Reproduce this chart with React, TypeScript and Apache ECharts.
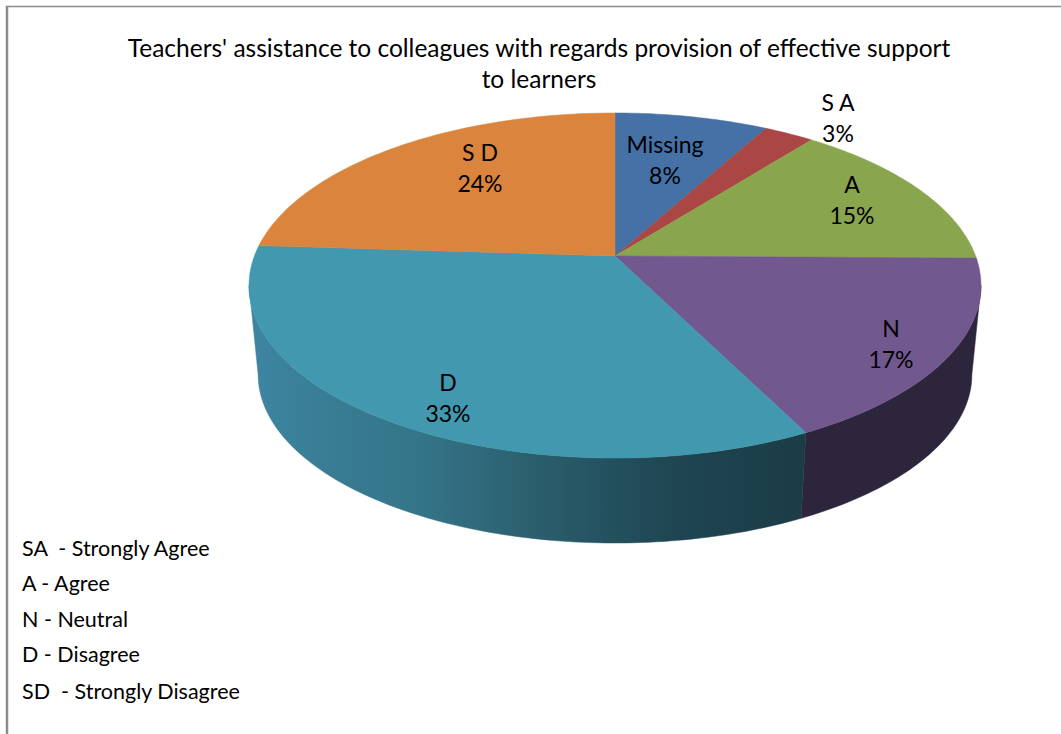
import React, { useEffect, useRef } from "react";
import * as echarts from "echarts";

const titleLines = [
  "Teachers' assistance to colleagues with regards provision of effective support",
  "to learners",
];
const categories = ["Missing", "S A", "A", "N", "D", "S D"];
const shares = [8.0, 2.6, 14.6, 17.4, 33.4, 24.0];
const legendLines = [
  "SA  - Strongly Agree",
  "A - Agree",
  "N - Neutral",
  "D - Disagree",
  "SD  - Strongly Disagree",
];

const topColors = ["#4571A7", "#AA4643", "#89A54E", "#71588F", "#4198AF", "#DB843D"];
const sideColors = ["#2a4464", "#662a28", "#52632f", "#2d253c", "#1b3c46", "#83501f"];
const labelCenters = [
  [665, 159],
  [838, 117],
  [852, 199],
  [891, 343],
  [448, 397],
  [480, 167],
];
const legendRows = [548, 583, 619, 654, 691];

const FONT = "Lato";
const CX = 615;
const CY = 256;
const RX = 360.6;
const RY = 167.5;
const PERSP = 0.171;
const LOWER_SCALE = 0.975;
const LOWER_DY = 90;
const STEP = Math.PI / 180;
// the outline's left and right extremes: the wall is only visible between them
const WALL_FROM = Math.acos(-PERSP);
const WALL_TO = Math.PI * 2 - WALL_FROM;

const total = shares.reduce((a, b) => a + b, 0);
const angleAt = (i: number) =>
  (shares.slice(0, i).reduce((a, b) => a + b, 0) / total) * Math.PI * 2;

function project(theta: number, lower: boolean): number[] {
  const s = Math.sin(theta);
  const c = Math.cos(theta);
  const w = 1 + PERSP * c;
  const k = lower ? LOWER_SCALE : 1;
  return [CX + (RX * k * s) / w, CY + (lower ? LOWER_DY : 0) - (RY * k * c) / w];
}

function arc(a0: number, a1: number, lower: boolean): number[][] {
  const n = Math.max(2, Math.ceil((a1 - a0) / STEP));
  const pts: number[][] = [];
  for (let i = 0; i <= n; i++) pts.push(project(a0 + ((a1 - a0) * i) / n, lower));
  return pts;
}

const sideFill = (i: number): any =>
  categories[i] === "D"
    ? {
        type: "linear",
        global: true,
        x: 258,
        y: 0,
        x2: 806,
        y2: 0,
        colorStops: [
          { offset: 0, color: "#3c84a0" },
          { offset: 0.15, color: "#387c92" },
          { offset: 0.3, color: "#347488" },
          { offset: 0.5, color: "#2b5f6e" },
          { offset: 0.75, color: "#1f4653" },
          { offset: 1, color: "#1b3c46" },
        ],
      }
    : sideColors[i];

export default function App() {
  const ref = useRef<HTMLDivElement>(null);
  useEffect(() => {
    const chart = echarts.init(ref.current!, undefined, { renderer: "svg" });
    const data = shares.map((v, i) => [i, v]);
    chart.setOption({
      animation: false,
      backgroundColor: "#ffffff",
      title: {
        text: titleLines.join("\n"),
        left: 534,
        top: 27,
        textAlign: "center",
        textStyle: {
          fontFamily: FONT,
          fontSize: 24.5,
          fontWeight: "normal",
          color: "#000000",
          lineHeight: 31,
        },
      },
      graphic: [
        {
          type: "line",
          silent: true,
          shape: { x1: 6, y1: 6.5, x2: 1061, y2: 6.5 },
          style: { stroke: "#8c8c8c", lineWidth: 1.5 },
        },
        {
          type: "line",
          silent: true,
          shape: { x1: 7, y1: 6, x2: 7, y2: 734 },
          style: { stroke: "#8c8c8c", lineWidth: 2.5 },
        },
        ...legendLines.map((t, i) => ({
          type: "text",
          silent: true,
          x: 22,
          y: legendRows[i],
          style: {
            text: t,
            font: `21.5px ${FONT}`,
            fill: "#000000",
            verticalAlign: "middle",
            textAlign: "left",
          },
        })),
      ],
      series: [
        {
          type: "custom",
          coordinateSystem: "none",
          silent: true,
          data,
          renderItem: (params: any) => {
            const i = params.dataIndex;
            const a0 = Math.max(angleAt(i), WALL_FROM);
            const a1 = Math.min(angleAt(i + 1), WALL_TO);
            if (a1 <= a0) return { type: "group", children: [] };
            const fill = sideFill(i);
            return {
              type: "polygon",
              shape: { points: [...arc(a0, a1, false), ...arc(a0, a1, true).reverse()] },
              style: { fill, stroke: fill, lineWidth: 0.5 },
            };
          },
        },
        {
          type: "custom",
          coordinateSystem: "none",
          silent: true,
          data,
          renderItem: (params: any) => {
            const i = params.dataIndex;
            return {
              type: "polygon",
              shape: { points: [[CX, CY], ...arc(angleAt(i), angleAt(i + 1), false)] },
              style: { fill: topColors[i], stroke: topColors[i], lineWidth: 0.5 },
            };
          },
        },
        {
          type: "custom",
          coordinateSystem: "none",
          silent: true,
          data,
          renderItem: (params: any, api: any) => {
            const i = params.dataIndex;
            const pct = Math.round((api.value(1) / total) * 100);
            return {
              type: "text",
              x: labelCenters[i][0],
              y: labelCenters[i][1],
              style: {
                text: `${categories[i]}\n${pct}%`,
                font: `23px ${FONT}`,
                lineHeight: 31,
                fill: "#000000",
                textAlign: "center",
                verticalAlign: "middle",
              },
            };
          },
        },
      ],
    });
    return () => chart.dispose();
  }, []);
  return (
    <div
      ref={ref}
      style={{ position: "absolute", left: 0, top: 0, width: 1061, height: 734 }}
    />
  );
}
